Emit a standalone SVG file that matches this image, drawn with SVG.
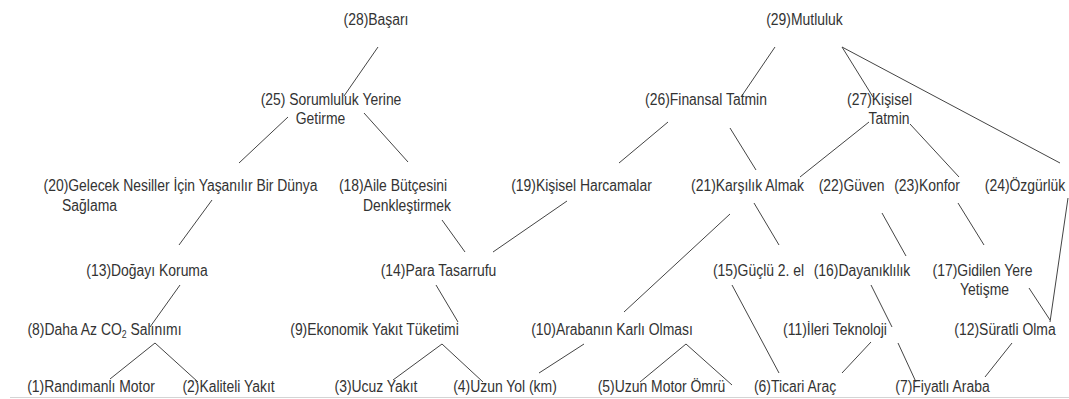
<svg xmlns="http://www.w3.org/2000/svg" width="1069" height="399" viewBox="0 0 1069 399">
<style>
text{font-family:"Liberation Sans",Arial,sans-serif;font-size:16px;fill:#333;text-anchor:middle;}
.c line{stroke:#444;stroke-width:1;fill:none;}
.sub{font-size:10px;}
</style>
<rect width="1069" height="399" fill="#fff"/>
<line x1="10" y1="397.5" x2="1069" y2="397.5" stroke="#d4d4d4" stroke-width="1"/>
<g class="c" id="connectors">
<line x1="378" y1="47" x2="344" y2="96"/>
<line x1="288" y1="117" x2="239" y2="163"/>
<line x1="364" y1="113" x2="408" y2="162"/>
<line x1="775" y1="47" x2="741" y2="97"/>
<line x1="842" y1="47" x2="873" y2="97"/>
<line x1="842" y1="47" x2="1060" y2="163"/>
<line x1="668" y1="122" x2="619" y2="163"/>
<line x1="730" y1="128" x2="756" y2="170"/>
<line x1="869" y1="122" x2="800" y2="177"/>
<line x1="910" y1="124" x2="959" y2="177"/>
<line x1="212" y1="200" x2="179" y2="245"/>
<line x1="442" y1="220" x2="465" y2="252"/>
<line x1="567" y1="201" x2="493" y2="252"/>
<line x1="730" y1="214" x2="624" y2="312"/>
<line x1="754" y1="203" x2="779" y2="245"/>
<line x1="882" y1="213" x2="906" y2="256"/>
<line x1="958" y1="203" x2="984" y2="245"/>
<line x1="1068" y1="198" x2="1050" y2="322"/>
<line x1="1029" y1="288" x2="1050" y2="320"/>
<line x1="180" y1="285" x2="150" y2="327"/>
<line x1="436" y1="285" x2="458" y2="322"/>
<line x1="732" y1="285" x2="779" y2="373"/>
<line x1="871" y1="285" x2="892" y2="327"/>
<line x1="898" y1="343" x2="916" y2="382"/>
<line x1="871" y1="342" x2="842" y2="373"/>
<line x1="1012" y1="343" x2="985" y2="377"/>
<line x1="155" y1="343" x2="110" y2="379"/>
<line x1="155" y1="343" x2="198" y2="382"/>
<line x1="442" y1="344" x2="393" y2="380"/>
<line x1="442" y1="344" x2="483" y2="382"/>
<line x1="584" y1="344" x2="539" y2="373"/>
<line x1="686" y1="344" x2="640" y2="382"/>
<line x1="686" y1="344" x2="732" y2="385"/>
</g>
<g id="n28"><text transform="translate(376 25) scale(.87 1)">(28)Başarı</text></g>
<g id="n29"><text transform="translate(804.5 25) scale(.87 1)">(29)Mutluluk</text></g>
<g id="n25"><text transform="translate(331 105) scale(.87 1)">(25) Sorumluluk Yerine</text><text transform="translate(320.5 124) scale(.87 1)">Getirme</text></g>
<g id="n26"><text transform="translate(706 105) scale(.87 1)">(26)Finansal Tatmin</text></g>
<g id="n27"><text transform="translate(879.5 105) scale(.87 1)">(27)Kişisel</text><text transform="translate(889 124) scale(.87 1)">Tatmin</text></g>
<g id="n20"><text transform="translate(180.5 191) scale(.87 1)">(20)Gelecek Nesiller İçin Yaşanılır Bir Dünya</text><text transform="translate(89.5 211) scale(.87 1)">Sağlama</text></g>
<g id="n18"><text transform="translate(393 191) scale(.87 1)">(18)Aile Bütçesini</text><text transform="translate(407 211) scale(.87 1)">Denkleştirmek</text></g>
<g id="n19"><text transform="translate(581.5 191) scale(.87 1)">(19)Kişisel Harcamalar</text></g>
<g id="n21"><text transform="translate(747.5 191) scale(.87 1)">(21)Karşılık Almak</text></g>
<g id="n22"><text transform="translate(851.5 191) scale(.87 1)">(22)Güven</text></g>
<g id="n23"><text transform="translate(927 191) scale(.87 1)">(23)Konfor</text></g>
<g id="n24"><text transform="translate(1025 191) scale(.87 1)">(24)Özgürlük</text></g>
<g id="n13"><text transform="translate(147 276) scale(.87 1)">(13)Doğayı Koruma</text></g>
<g id="n14"><text transform="translate(438.5 276) scale(.87 1)">(14)Para Tasarrufu</text></g>
<g id="n15"><text transform="translate(758.5 276) scale(.87 1)">(15)Güçlü 2. el</text></g>
<g id="n16"><text transform="translate(862 276) scale(.87 1)">(16)Dayanıklılık</text></g>
<g id="n17"><text transform="translate(982.5 276) scale(.87 1)">(17)Gidilen Yere</text><text transform="translate(984.5 295) scale(.87 1)">Yetişme</text></g>
<g id="n8"><text transform="translate(104.5 335) scale(.87 1)">(8)Daha Az CO<tspan class="sub" dy="3">2</tspan><tspan dy="-3"> Salınımı</tspan></text></g>
<g id="n9"><text transform="translate(374.5 335) scale(.87 1)">(9)Ekonomik Yakıt Tüketimi</text></g>
<g id="n10"><text transform="translate(612 335) scale(.87 1)">(10)Arabanın Karlı Olması</text></g>
<g id="n11"><text transform="translate(835 335) scale(.87 1)">(11)İleri Teknoloji</text></g>
<g id="n12"><text transform="translate(1005 335) scale(.87 1)">(12)Süratli Olma</text></g>
<g id="n1"><text transform="translate(91 392) scale(.87 1)">(1)Randımanlı Motor</text></g>
<g id="n2"><text transform="translate(228.5 392) scale(.87 1)">(2)Kaliteli Yakıt</text></g>
<g id="n3"><text transform="translate(376 392) scale(.87 1)">(3)Ucuz Yakıt</text></g>
<g id="n4"><text transform="translate(505 392) scale(.87 1)">(4)Uzun Yol (km)</text></g>
<g id="n5"><text transform="translate(661.5 392) scale(.87 1)">(5)Uzun Motor Ömrü</text></g>
<g id="n6"><text transform="translate(795 392) scale(.87 1)">(6)Ticari Araç</text></g>
<g id="n7"><text transform="translate(942.5 392) scale(.87 1)">(7)Fiyatlı Araba</text></g>
</svg>
